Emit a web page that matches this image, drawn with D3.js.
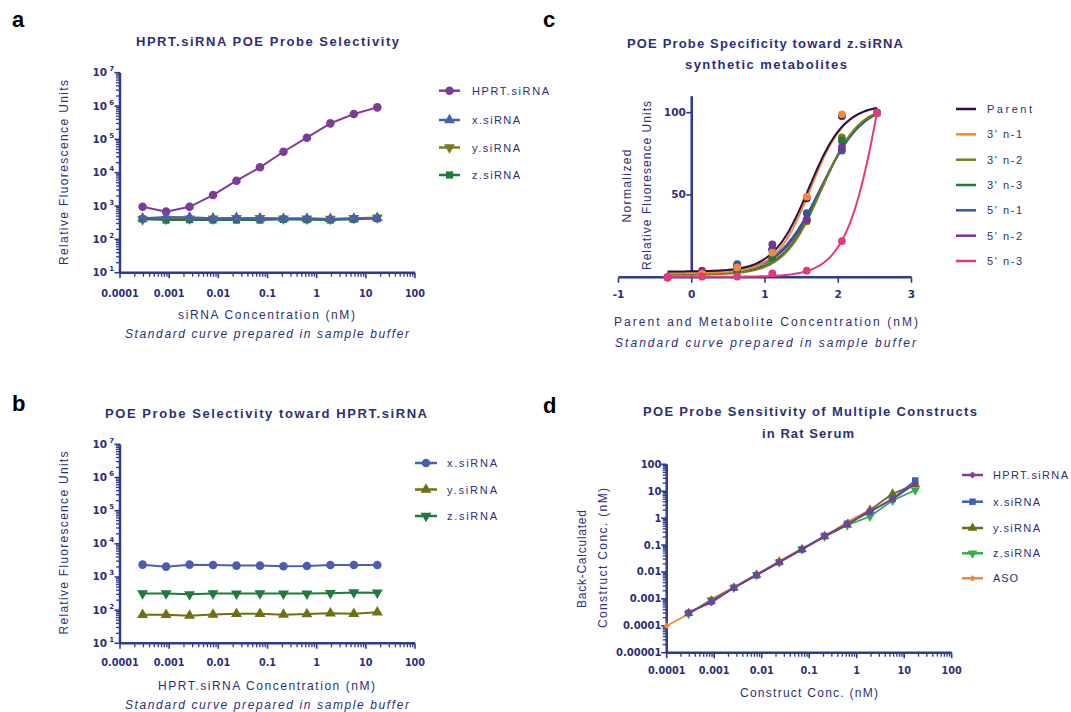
<!DOCTYPE html>
<html><head><meta charset="utf-8">
<script src="https://cdn.jsdelivr.net/npm/d3@7"></script>
<style>
body{margin:0;background:#fff}
svg text{font-family:"Liberation Sans",Arial,sans-serif}
</style>
</head><body>
<svg id="chart" width="1071" height="712"></svg>
<script>
// ---------------- DATA ----------------
const dilution = [0.000288,0.000866,0.0026,0.0078,0.0234,0.0703,0.211,0.633,1.9,5.7,17.1];
const logTickLabelsX = ["0.0001","0.001","0.01","0.1","1","10","100"];

// panel a
const seriesA = ["HPRT.siRNA","x.siRNA","y.siRNA","z.siRNA"];
const hprtA = [950,680,950,2140,5750,14500,42500,112000,302000,575000,912000];
const xsiA  = [430,470,460,430,440,430,420,420,410,420,440];
const ysiA  = [400,410,420,420,430,430,420,420,410,430,450];
const zsiA  = [410,380,390,380,380,380,400,390,380,400,420];

// panel b
const seriesB = ["x.siRNA","y.siRNA","z.siRNA"];
const xsiB = [2350,2050,2350,2300,2200,2200,2100,2150,2300,2300,2300];
const ysiB = [72,72,68,74,78,78,73,76,80,78,86];
const zsiB = [320,320,300,320,315,320,315,315,325,340,335];

// panel c
const seriesC = ["Parent","3' n-1","3' n-2","3' n-3","5' n-1","5' n-2","5' n-3"];
const logConcC = [-0.33,0.14,0.62,1.10,1.57,2.05,2.53];
const parentC = [0,3,7,17,48,98,100];
const n1_3C  = [0,2,6,15,49,99,100];
const n2_3C  = [0,2,4,11,34,85,100];
const n3_3C  = [0,2,4,12,35,83,100];
const n1_5C  = [0,2,8,17,39,77,100];
const n2_5C  = [0,4,6,20,35,79,100];
const n3_5C  = [0,0.5,0.5,2.4,4,22,100];
// four-parameter logistic fit results shown as the curves
const fitBottom = [3.5,2.5,1.5,2.0,2.5,2.5,0.3];
const fitTop    = [105,105,105,105,106,106,250];
const fitLogEC50= [1.60,1.62,1.77,1.77,1.76,1.77,2.63];
const fitHill   = [1.80,1.85,1.70,1.65,1.50,1.55,1.75];
const ticksCX = [-1,0,1,2,3];
const ticksCY = [50,100];

// panel d
const seriesD = ["HPRT.siRNA","x.siRNA","y.siRNA","z.siRNA","ASO"];
const hprtD = [0.00032,0.00072,0.0026,0.0078,0.023,0.068,0.21,0.6,1.8,5.0,19];
const xsiD  = [0.0003,0.0008,0.0026,0.0075,0.023,0.068,0.22,0.62,1.7,5.2,25];
const ysiD  = [0.00029,0.00085,0.0026,0.0078,0.024,0.07,0.21,0.56,2.0,8.0,18];
const zsiD  = [0.00028,0.0009,0.0026,0.0077,0.023,0.07,0.21,0.55,1.15,4.5,11];
const concASO = [0.0001,0.0003,0.0009,0.0027,0.0081,0.0243,0.0729,0.219,0.656,1.97];
const asoD    = [0.0001,0.00028,0.001,0.0028,0.0085,0.026,0.078,0.21,0.75,2.1];
const logTickLabelsDY = ["0.00001","0.0001","0.001","0.01","0.1","1","10","100"];

// ---------------- STYLE ----------------
const AX = "#2f3b8b", TX = "#2b2f7a";
const svg = d3.select("#chart");

function txt(g, x, y, s, o = {}) {
  const t = g.append("text").attr("x", x).attr("y", y).text(s)
    .attr("fill", o.fill || TX)
    .attr("font-size", o.size || 12)
    .attr("font-weight", o.weight || "normal")
    .attr("text-anchor", o.anchor || "middle");
  if (o.family) t.style("font-family", o.family);
  if (o.italic) t.attr("font-style", "italic");
  if (o.len) t.attr("textLength", o.len).attr("lengthAdjust", "spacing");
  if (o.rot) t.attr("transform", `rotate(-90 ${x} ${y})`);
  return t;
}
const TICKFONT = '"DejaVu Sans",Verdana,sans-serif';

function sym(type, size, rot) {
  return { path: d3.symbol().type(type).size(size)(), rot: rot || 0 };
}

function drawSeries(g, xs, ys, x, y, color, s, lw) {
  const pts = d3.zip(xs, ys);
  g.append("path").datum(pts)
    .attr("d", d3.line().x(d => x(d[0])).y(d => y(d[1])))
    .attr("fill", "none").attr("stroke", color).attr("stroke-width", lw);
  g.selectAll(null).data(pts).enter().append("path")
    .attr("d", s.path)
    .attr("transform", d => `translate(${x(d[0])},${y(d[1])}) rotate(${s.rot})`)
    .attr("fill", color);
}

function logAxisX(g, x, yPos, labels, labelY) {
  const [d0, d1] = x.domain();
  const e0 = Math.round(Math.log10(d0)), e1 = Math.round(Math.log10(d1));
  g.append("line").attr("x1", x(d0)).attr("x2", x(d1)).attr("y1", yPos).attr("y2", yPos)
    .attr("stroke", AX).attr("stroke-width", 2.5);
  for (let e = e0; e <= e1; e++) {
    const v = Math.pow(10, e);
    g.append("line").attr("x1", x(v)).attr("x2", x(v)).attr("y1", yPos).attr("y2", yPos + 5.5)
      .attr("stroke", AX).attr("stroke-width", 1.6);
    if (e < e1) for (let k = 2; k <= 9; k++) {
      g.append("line").attr("x1", x(k * v)).attr("x2", x(k * v)).attr("y1", yPos).attr("y2", yPos + 4)
        .attr("stroke", AX).attr("stroke-width", 1.3);
    }
    txt(g, x(v), labelY, labels[e - e0], { size: 9.7, weight: "bold", family: TICKFONT });
  }
}

function logAxisY(g, y, xPos, labelFn, labelX) {
  const [d0, d1] = y.domain();
  const e0 = Math.round(Math.log10(d0)), e1 = Math.round(Math.log10(d1));
  g.append("line").attr("x1", xPos).attr("x2", xPos).attr("y1", y(d0)).attr("y2", y(d1))
    .attr("stroke", AX).attr("stroke-width", 2.5);
  for (let e = e0; e <= e1; e++) {
    const v = Math.pow(10, e);
    g.append("line").attr("x1", xPos - 5.5).attr("x2", xPos).attr("y1", y(v)).attr("y2", y(v))
      .attr("stroke", AX).attr("stroke-width", 1.6);
    if (e < e1) for (let k = 2; k <= 9; k++) {
      g.append("line").attr("x1", xPos - 4).attr("x2", xPos).attr("y1", y(k * v)).attr("y2", y(k * v))
        .attr("stroke", AX).attr("stroke-width", 1.3);
    }
    labelFn(g, labelX, y(v) + 3.5, e, e - e0);
  }
}

function powLabel(g, x, y, e) {
  const t = g.append("text").attr("x", x).attr("y", y).attr("text-anchor", "end")
    .attr("fill", TX).attr("font-weight", "bold").attr("font-size", 10.5).style("font-family", TICKFONT);
  t.append("tspan").text("10");
  t.append("tspan").text(e).attr("font-size", 7).attr("dx", 2).attr("dy", -5);
}

function legendRow(g, x1, x2, yRow, color, s, label, tx, len, lw) {
  g.append("line").attr("x1", x1).attr("x2", x2).attr("y1", yRow).attr("y2", yRow)
    .attr("stroke", color).attr("stroke-width", lw);
  if (s) g.append("path").attr("d", s.path)
    .attr("transform", `translate(${(x1 + x2) / 2},${yRow}) rotate(${s.rot})`).attr("fill", color);
  txt(g, tx, yRow + 4, label, { size: 11, anchor: "start", len: len });
}

// panel letters
[["a", 12, 27], ["c", 543, 27], ["b", 12, 411], ["d", 543, 413]].forEach(([l, x, y]) =>
  txt(svg, x, y, l, { size: 22, weight: "bold", anchor: "start", fill: "#000" }));

// ---------------- PANEL A ----------------
{
  const g = svg.append("g");
  const x = d3.scaleLog().domain([1e-4, 100]).range([120, 415]);
  const y = d3.scaleLog().domain([10, 1e7]).range([272.7, 72.7]);
  const cols = ["#7d3c98", "#4a5fae", "#7b7b1e", "#1f7a3c"];
  const syms = [sym(d3.symbolCircle, 58), sym(d3.symbolTriangle, 52), sym(d3.symbolTriangle, 52, 180), sym(d3.symbolSquare, 52)];
  logAxisY(g, y, 120, powLabel, 114);
  logAxisX(g, x, 272.7, logTickLabelsX, 296.5);
  drawSeries(g, dilution, hprtA, x, y, cols[0], syms[0], 2);
  drawSeries(g, dilution, ysiA, x, y, cols[2], syms[2], 2);
  drawSeries(g, dilution, zsiA, x, y, cols[3], syms[3], 2);
  drawSeries(g, dilution, xsiA, x, y, cols[1], syms[1], 2);
  txt(g, 267.5, 46, "HPRT.siRNA POE Probe Selectivity", { size: 13, weight: "bold", len: 263 });
  txt(g, 266.5, 319, "siRNA Concentration (nM)", { size: 12, len: 177 });
  txt(g, 267, 338, "Standard curve prepared in sample buffer", { size: 12, italic: true, len: 284 });
  txt(g, 68, 172.5, "Relative Fluorescence Units", { size: 12, rot: true, len: 185 });
  const rows = [90.7, 120, 147.5, 175];
  const lens = [77, 48, 48, 48];
  seriesA.forEach((s, i) => legendRow(g, 439, 460, rows[i], cols[i], syms[i], s, 472, lens[i], 2.5));
}

// ---------------- PANEL B ----------------
{
  const g = svg.append("g");
  const x = d3.scaleLog().domain([1e-4, 100]).range([120, 415]);
  const y = d3.scaleLog().domain([10, 1e7]).range([643.3, 444.3]);
  const cols = ["#4a5fae", "#6f6f14", "#1f7a3c"];
  const syms = [sym(d3.symbolCircle, 58), sym(d3.symbolTriangle, 52), sym(d3.symbolTriangle, 52, 180)];
  logAxisY(g, y, 120, powLabel, 114);
  logAxisX(g, x, 643.3, logTickLabelsX, 666);
  drawSeries(g, dilution, xsiB, x, y, cols[0], syms[0], 2);
  drawSeries(g, dilution, ysiB, x, y, cols[1], syms[1], 2);
  drawSeries(g, dilution, zsiB, x, y, cols[2], syms[2], 2);
  txt(g, 266, 417.7, "POE Probe Selectivity toward HPRT.siRNA", { size: 13, weight: "bold", len: 322 });
  txt(g, 266.5, 690, "HPRT.siRNA Concentration (nM)", { size: 12, len: 217 });
  txt(g, 267, 709, "Standard curve prepared in sample buffer", { size: 12, italic: true, len: 284 });
  txt(g, 68, 543, "Relative Fluorescence Units", { size: 12, rot: true, len: 183 });
  const rows = [463, 489.5, 516];
  seriesB.forEach((s, i) => legendRow(g, 415, 437, rows[i], cols[i], syms[i], s, 447, 50, 2.5));
}

// ---------------- PANEL C ----------------
{
  const g = svg.append("g");
  const x = d3.scaleLinear().domain([-1, 3]).range([618.5, 911.5]);
  const y = d3.scaleLinear().domain([0, 110]).range([277.3, 96.2]);
  const cols = ["#2a0f4a", "#f58634", "#7b7b1e", "#1f7a3c", "#2c5aa0", "#7b3294", "#e8367f"];
  const vals = [parentC, n1_3C, n2_3C, n3_3C, n1_5C, n2_5C, n3_5C];
  // axes
  g.append("line").attr("x1", x(0)).attr("x2", x(0)).attr("y1", y(0)).attr("y2", y(110))
    .attr("stroke", AX).attr("stroke-width", 2.5);
  g.append("line").attr("x1", x(-1)).attr("x2", x(3)).attr("y1", y(0)).attr("y2", y(0))
    .attr("stroke", AX).attr("stroke-width", 2.5);
  ticksCY.forEach(v => {
    g.append("line").attr("x1", x(0) - 5.5).attr("x2", x(0)).attr("y1", y(v)).attr("y2", y(v))
      .attr("stroke", AX).attr("stroke-width", 1.6);
    txt(g, x(0) - 6, y(v) + 3.5, String(v), { size: 10.5, weight: "bold", anchor: "end", family: TICKFONT });
  });
  ticksCX.forEach(v => {
    g.append("line").attr("x1", x(v)).attr("x2", x(v)).attr("y1", y(0)).attr("y2", y(0) + 5.5)
      .attr("stroke", AX).attr("stroke-width", 1.6);
    txt(g, x(v), 298.3, String(v), { size: 10.5, weight: "bold", family: TICKFONT });
  });
  // fitted curves
  const curveOrder = [5, 4, 3, 2, 1, 0, 6];
  const pointOrder = [0, 2, 3, 4, 5, 1, 6];
  const xGrid = d3.range(logConcC[0], logConcC[logConcC.length - 1] + 0.0001, 0.02);
  curveOrder.forEach(i => {
    const f = v => fitBottom[i] + (fitTop[i] - fitBottom[i]) / (1 + Math.pow(10, (fitLogEC50[i] - v) * fitHill[i]));
    g.append("path").datum(xGrid)
      .attr("d", d3.line().x(v => x(v)).y(v => y(f(v))))
      .attr("fill", "none").attr("stroke", cols[i]).attr("stroke-width", 2);
  });
  pointOrder.forEach(i => {
    g.selectAll(null).data(d3.zip(logConcC, vals[i])).enter().append("circle")
      .attr("cx", d => x(d[0])).attr("cy", d => y(d[1])).attr("r", 3.9).attr("fill", cols[i]);
  });
  txt(g, 765, 48, "POE Probe Specificity toward z.siRNA", { size: 13, weight: "bold", len: 276 });
  txt(g, 766, 69, "synthetic metabolites", { size: 13, weight: "bold", len: 162 });
  txt(g, 766, 326, "Parent and Metabolite Concentration (nM)", { size: 12, len: 304 });
  txt(g, 765.5, 346.7, "Standard curve prepared in sample buffer", { size: 12, italic: true, len: 301 });
  txt(g, 631, 186, "Normalized", { size: 12, rot: true, len: 73 });
  txt(g, 651, 185.5, "Relative Fluoresence Units", { size: 12, rot: true, len: 169 });
  const rows = [109, 134.3, 159.7, 185, 210.3, 235.7, 261];
  seriesC.forEach((s, i) => legendRow(g, 956, 976, rows[i], cols[i], null, s, 987, i === 0 ? 45 : 35, 2.5));
}

// ---------------- PANEL D ----------------
{
  const g = svg.append("g");
  const x = d3.scaleLog().domain([1e-4, 100]).range([666.7, 951.7]);
  const y = d3.scaleLog().domain([1e-5, 100]).range([652.7, 464.3]);
  const cols = ["#7d3c98", "#4060b0", "#6e6e14", "#2eb04c", "#f58634"];
  const syms = [sym(d3.symbolSquare, 24, 45), sym(d3.symbolSquare, 42), sym(d3.symbolTriangle, 40),
                sym(d3.symbolTriangle, 40, 180), sym(d3.symbolSquare, 20, 45)];
  logAxisY(g, y, 666.7, (gg, lx, ly, e, i) =>
    txt(gg, lx, ly, logTickLabelsDY[i], { size: 10, weight: "bold", anchor: "end", family: TICKFONT }), 661.5);
  logAxisX(g, x, 652.7, logTickLabelsX, 674.3);
  drawSeries(g, concASO, asoD, x, y, cols[4], syms[4], 1.8);
  drawSeries(g, dilution, zsiD, x, y, cols[3], syms[3], 1.8);
  drawSeries(g, dilution, ysiD, x, y, cols[2], syms[2], 1.8);
  drawSeries(g, dilution, xsiD, x, y, cols[1], syms[1], 1.8);
  drawSeries(g, dilution, hprtD, x, y, cols[0], syms[0], 1.8);
  txt(g, 810, 415.7, "POE Probe Sensitivity of Multiple Constructs", { size: 13, weight: "bold", len: 334 });
  txt(g, 808, 437.7, "in Rat Serum", { size: 13, weight: "bold", len: 92 });
  txt(g, 809, 697, "Construct Conc. (nM)", { size: 12, len: 138 });
  txt(g, 586, 559, "Back-Calculated", { size: 12, rot: true, len: 98 });
  txt(g, 607, 558, "Construct Conc. (nM)", { size: 12, rot: true, len: 140 });
  const rows = [475, 501.7, 528, 553.3, 578.3];
  const lens = [75, 47, 47, 47, 25];
  seriesD.forEach((s, i) => legendRow(g, 962, 983, rows[i], cols[i], syms[i], s, 993, lens[i], 2.5));
}
</script>
</body></html>
